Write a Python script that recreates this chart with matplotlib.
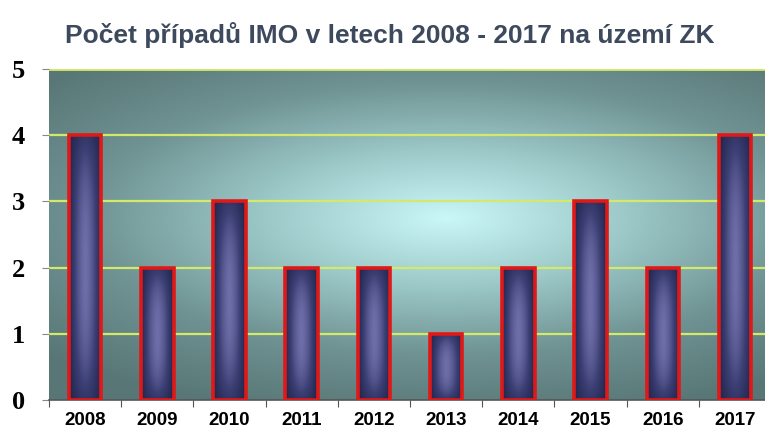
import numpy as np
import matplotlib
matplotlib.use('Agg')
import matplotlib.pyplot as plt
from matplotlib.colors import LinearSegmentedColormap

years = ['2008', '2009', '2010', '2011', '2012', '2013', '2014', '2015', '2016', '2017']
cases = [4, 2, 3, 2, 2, 1, 2, 3, 2, 4]
title = 'Počet případů IMO v letech 2008 - 2017 na území ZK'

fig = plt.figure(figsize=(7.65, 4.36), dpi=100)
fig.patch.set_facecolor('white')
ax = fig.add_axes([0.064, 0.0826, 0.944, 0.759])

x = np.arange(len(years))

# background radial gradient
bg_cmap = LinearSegmentedColormap.from_list('bg', ['#c9f6f6', '#9cc8c8', '#6f9292', '#587676'])
gx, gy = np.meshgrid(np.linspace(0, 1, 400), np.linspace(0, 1, 300))
r = np.sqrt(((gx - 0.55) / 0.75) ** 2 + ((gy - 0.45) / 0.62) ** 2)
ax.imshow(np.clip(r, 0, 1), cmap=bg_cmap, extent=(-0.5, len(years) - 0.5, 0, 5),
          aspect='auto', origin='upper', zorder=0, interpolation='bilinear')

# gridlines
for v in range(1, 6):
    ax.axhline(v, color='#d2ea6a', lw=1.6 if v < 5 else 2.0, zorder=1)

# bars with gradient fill
bar_cmap = LinearSegmentedColormap.from_list('bar', ['#20244a', '#3c3f74', '#6e6ea8'])
bars = ax.bar(x, cases, width=0.45, facecolor='none', edgecolor='#e01818', lw=2.6, zorder=3)
bx, by = np.meshgrid(np.linspace(0, 1, 60), np.linspace(0, 1, 120))
fx = 1 - np.abs(2 * bx - 1) ** 1.6
fy = 1 - np.abs(2 * by - 1) ** 2.5
for b in bars:
    x0, w, h = b.get_x(), b.get_width(), b.get_height()
    ax.imshow(fx * (0.35 + 0.65 * fy), cmap=bar_cmap, vmin=0, vmax=1,
              extent=(x0, x0 + w, 0, h), aspect='auto', zorder=2, interpolation='bilinear')

ax.set_xlim(-0.5, len(years) - 0.5)
ax.set_ylim(0, 5)

for s in ['top', 'right', 'left']:
    ax.spines[s].set_visible(False)
ax.spines['bottom'].set_color('#555555')
ax.spines['bottom'].set_linewidth(1.2)

ax.set_yticks(range(6))
ax.set_yticklabels([str(v) for v in range(6)], fontfamily='Liberation Serif',
                   fontweight='bold', fontsize=19)
ax.tick_params(axis='y', length=5, color='#888888', pad=12)

ax.set_xticks(np.arange(-0.5, len(years), 1))
ax.set_xticklabels([])
ax.set_xticks(x, minor=True)
ax.set_xticklabels(years, minor=True, fontfamily='Liberation Sans', fontweight='bold', fontsize=13.5)
ax.tick_params(axis='x', which='major', length=5, color='#555555')
ax.tick_params(axis='x', which='minor', length=0, pad=9)

fig.text(0.51, 0.92, title, ha='center', va='center', fontsize=19,
         fontfamily=['Liberation Sans Narrow', 'Liberation Sans'], fontweight='bold',
         color='#3d4a5e')

fig.savefig('out.png', dpi=100)
